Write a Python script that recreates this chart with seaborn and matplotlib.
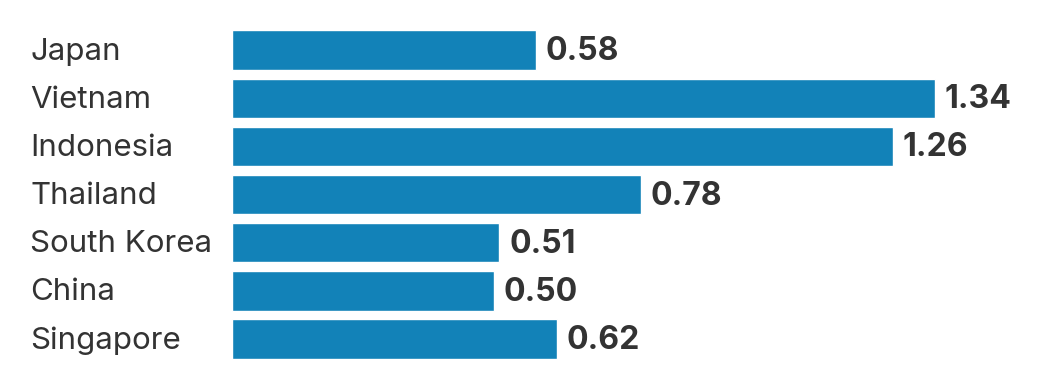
import pandas as pd
import seaborn as sns
import matplotlib.pyplot as plt
import matplotlib.transforms as mtransforms

countries = ["Japan", "Vietnam", "Indonesia", "Thailand", "South Korea", "China", "Singapore"]
values = [0.58, 1.34, 1.26, 0.78, 0.51, 0.50, 0.62]

df = pd.DataFrame({"country": countries, "value": values})

sns.set_style("white")
plt.rcParams["font.family"] = ["Inter", "DejaVu Sans"]

fig = plt.figure(figsize=(10.64, 3.79), dpi=100)
ax = fig.add_axes([0.218, 0.042, 0.779, 0.889])

sns.barplot(data=df, x="value", y="country", color="#1282b8", saturation=1,
            width=0.82, ax=ax)

ax.set_xlim(0, 1.58)
ax.set_ylim(6.5, -0.5)
ax.set_xlabel("")
ax.set_ylabel("")
ax.set_xticks([])
ax.set_yticks([])
sns.despine(ax=ax, left=True, bottom=True)

trans = mtransforms.blended_transform_factory(fig.transFigure, ax.transData)
for i, (c, v) in enumerate(zip(countries, values)):
    ax.text(30 / 1064, i + 0.03, c, transform=trans, ha="left", va="center",
            fontsize=22.5, color="#333333")
    ax.annotate(f"{v:.2f}", (v, i), xytext=(7, -1), textcoords="offset points",
                ha="left", va="center", fontsize=23, fontweight="bold",
                color="#333333")

plt.savefig("out.png", dpi=100)
